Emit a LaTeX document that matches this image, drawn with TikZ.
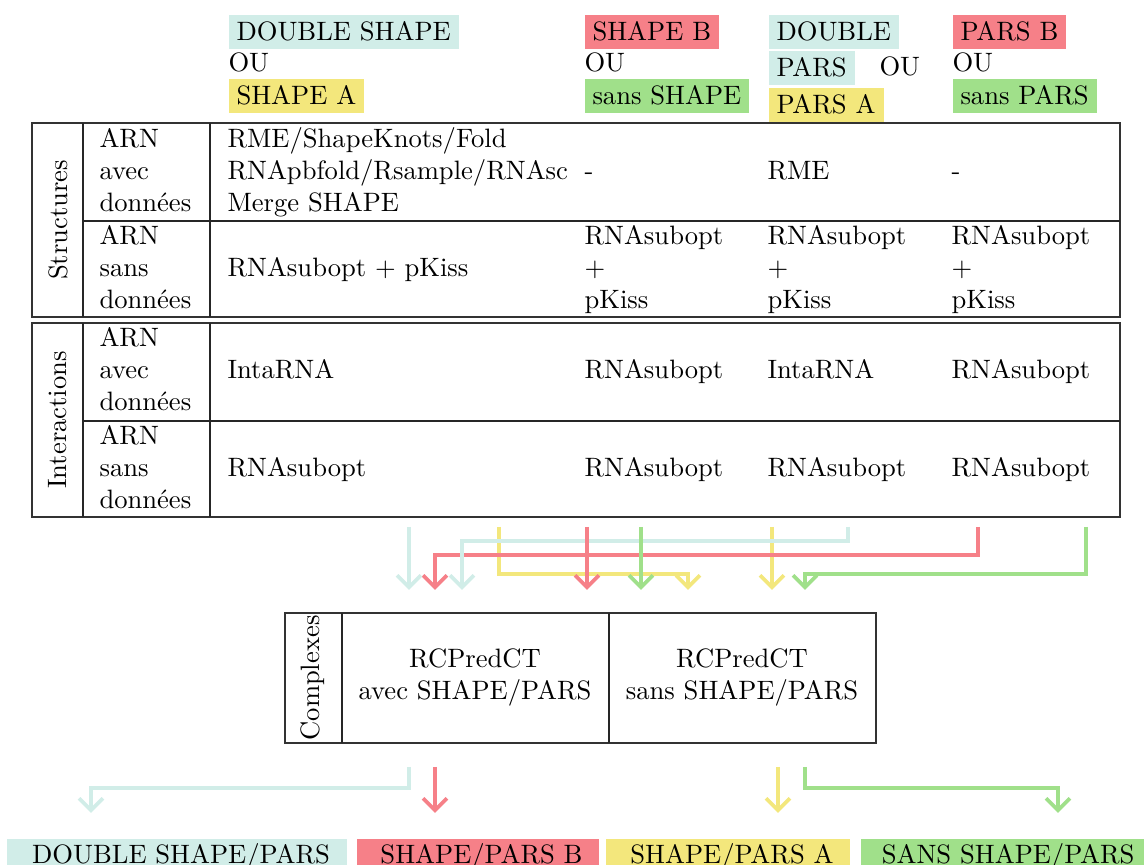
\documentclass[tikz,border=0pt]{standalone}
\usetikzlibrary{arrows.meta}
\definecolor{cC}{RGB}{209,237,232}
\definecolor{cR}{RGB}{246,128,136}
\definecolor{cY}{RGB}{243,231,124}
\definecolor{cG}{RGB}{160,224,138}
\begin{document}
\begin{tikzpicture}[x=0.376pt,y=-0.376pt,
  hbox/.style={anchor=north west, inner sep=3pt, text height=6.9pt, text depth=0pt},
  txt/.style={anchor=base west, inner sep=0pt},
  ctxt/.style={anchor=base, inner sep=0pt},
  frame/.style={draw=black!80, line width=0.9pt},
  sepline/.style={draw=black!85, line width=0.6pt},
  flow/.style={line width=1.4pt, -{Straight Barb[length=4.5pt,width=9pt]}},
  rot/.style={rotate=90, inner sep=0pt},
  botbox/.style={anchor=north west, inner xsep=0pt, inner ysep=2.5pt, text height=7pt, text depth=2.5pt, align=center}
]
\clip (0,0) rectangle (1144,865);
\fill[white] (0,0) rectangle (1144,865);

% ---- headers
\node[hbox, fill=cC] (hds) at (228,14) {DOUBLE SHAPE};
\node[txt] (hou1) at (228,72) {OU};
\node[hbox, fill=cY] (hsa) at (228,78) {SHAPE A};
\node[hbox, fill=cR] (hsb) at (584,14) {SHAPE B};
\node[txt] (hou2) at (584,72) {OU};
\node[hbox, fill=cG] (hss) at (584,78) {sans SHAPE};
\node[hbox, fill=cC] (hdp1) at (768,14) {DOUBLE};
\node[hbox, fill=cC] (hdp2) at (768,50) {PARS};
\node[txt] (hou3) at (879,76) {OU};
\node[hbox, fill=cY] (hpa) at (768,87) {PARS A};
\node[hbox, fill=cR] (hpb) at (952,14) {PARS B};
\node[txt] (hou4) at (952,72) {OU};
\node[hbox, fill=cG] (hsp) at (952,78) {sans PARS};

% ---- table Structures
\draw[frame] (32,123) rectangle (1120,317);
\draw[sepline] (83,123) -- (83,317);
\draw[sepline] (210,123) -- (210,317);
\draw[sepline] (83,221) -- (1120,221);
\node[rot] (ls) at (58,220) {Structures};
\node[txt] (s1a) at (99,148) {ARN};
\node[txt] (s1b) at (99,180) {avec};
\node[txt] (s1c) at (99,212) {données};
\node[txt] (s1d) at (227,148) {RME/ShapeKnots/Fold};
\node[txt] (s1e) at (227,180) {RNApbfold/Rsample/RNAsc};
\node[txt] (s1f) at (227,212) {Merge SHAPE};
\node[txt] (s1g) at (584,180) {-};
\node[txt] (s1h) at (767,180) {RME};
\node[txt] (s1i) at (951,180) {-};
\node[txt] (s2a) at (99,245) {ARN};
\node[txt] (s2b) at (99,277) {sans};
\node[txt] (s2c) at (99,309) {données};
\node[txt] (s2d) at (227,277) {RNAsubopt + pKiss};
\node[txt] (s2e) at (584,245) {RNAsubopt};
\node[txt] (s2f) at (584,277) {+};
\node[txt] (s2g) at (584,309) {pKiss};
\node[txt] (s2h) at (767,245) {RNAsubopt};
\node[txt] (s2i) at (767,277) {+};
\node[txt] (s2j) at (767,309) {pKiss};
\node[txt] (s2k) at (951,245) {RNAsubopt};
\node[txt] (s2l) at (951,277) {+};
\node[txt] (s2m) at (951,309) {pKiss};

% ---- table Interactions
\draw[frame] (32,323) rectangle (1120,517);
\draw[sepline] (83,323) -- (83,517);
\draw[sepline] (210,323) -- (210,517);
\draw[sepline] (83,421) -- (1120,421);
\node[rot] (li) at (58,420) {Interactions};
\node[txt] (i1a) at (99,347) {ARN};
\node[txt] (i1b) at (99,379) {avec};
\node[txt] (i1c) at (99,411) {données};
\node[txt] (i1d) at (227,379) {IntaRNA};
\node[txt] (i1e) at (584,379) {RNAsubopt};
\node[txt] (i1f) at (767,379) {IntaRNA};
\node[txt] (i1g) at (951,379) {RNAsubopt};
\node[txt] (i2a) at (99,445) {ARN};
\node[txt] (i2b) at (99,477) {sans};
\node[txt] (i2c) at (99,509) {données};
\node[txt] (i2d) at (227,477) {RNAsubopt};
\node[txt] (i2e) at (584,477) {RNAsubopt};
\node[txt] (i2f) at (767,477) {RNAsubopt};
\node[txt] (i2g) at (951,477) {RNAsubopt};

% ---- complexes box
\draw[frame] (285,613) rectangle (876,743);
\draw[sepline] (342,613) -- (342,743);
\draw[sepline] (609,613) -- (609,743);
\node[rot] (lc) at (313,678) {Complexes};
\node[ctxt] (c1a) at (475,668) {RCPredCT};
\node[ctxt] (c1b) at (475,700) {avec SHAPE/PARS};
\node[ctxt] (c2a) at (742,668) {RCPredCT};
\node[ctxt] (c2b) at (742,700) {sans SHAPE/PARS};

% ---- top arrows coordinates
\coordinate (tY1s) at (499,527); \coordinate (tY1e) at (688,590);
\coordinate (tY2s) at (772,527); \coordinate (tY2e) at (772,590);
\coordinate (tR1s) at (978,527); \coordinate (tR1e) at (435,590);
\coordinate (tR2s) at (587,527); \coordinate (tR2e) at (587,590);
\coordinate (tC1s) at (409,527); \coordinate (tC1e) at (409,590);
\coordinate (tC2s) at (848,527); \coordinate (tC2e) at (462,590);
\coordinate (tG1s) at (641,527); \coordinate (tG1e) at (641,590);
\coordinate (tG2s) at (1086,527); \coordinate (tG2e) at (805,590);

\draw[flow, cY] (tY1s) -- ++(0,47) -| (tY1e);
\draw[flow, cY] (tY2s) -- (tY2e);
\draw[flow, cR] (tR1s) -- ++(0,28) -| (tR1e);
\draw[flow, cC] (tC1s) -- (tC1e);
\draw[flow, cC] (tC2s) -- ++(0,14) -| (tC2e);
\draw[flow, cR] (tR2s) -- (tR2e);
\draw[flow, cG] (tG1s) -- (tG1e);
\draw[flow, cG] (tG2s) -- ++(0,47) -| (tG2e);

% ---- bottom arrows
\coordinate (bCs) at (409,767); \coordinate (bCe) at (91,813);
\coordinate (bRs) at (435,767); \coordinate (bRe) at (435,813);
\coordinate (bYs) at (778,767); \coordinate (bYe) at (778,813);
\coordinate (bGs) at (805,767); \coordinate (bGe) at (1058,813);
\draw[flow, cC] (bCs) -- ++(0,21) -| (bCe);
\draw[flow, cR] (bRs) -- (bRe);
\draw[flow, cY] (bYs) -- (bYe);
\draw[flow, cG] (bGs) -- ++(0,21) -| (bGe);

% ---- bottom labels
\node[botbox, fill=cC, minimum width=128.2pt] (oC) at (6,838) {\hspace*{3pt}DOUBLE SHAPE/PARS};
\node[botbox, fill=cR, minimum width=91.0pt] (oR) at (356,838) {\hspace*{3pt}SHAPE/PARS B};
\node[botbox, fill=cY, minimum width=92.1pt] (oY) at (605,838) {\hspace*{3pt}SHAPE/PARS A};
\node[botbox, fill=cG, minimum width=111pt] (oG) at (860,838) {SANS SHAPE/PARS};
\end{tikzpicture}
\end{document}
